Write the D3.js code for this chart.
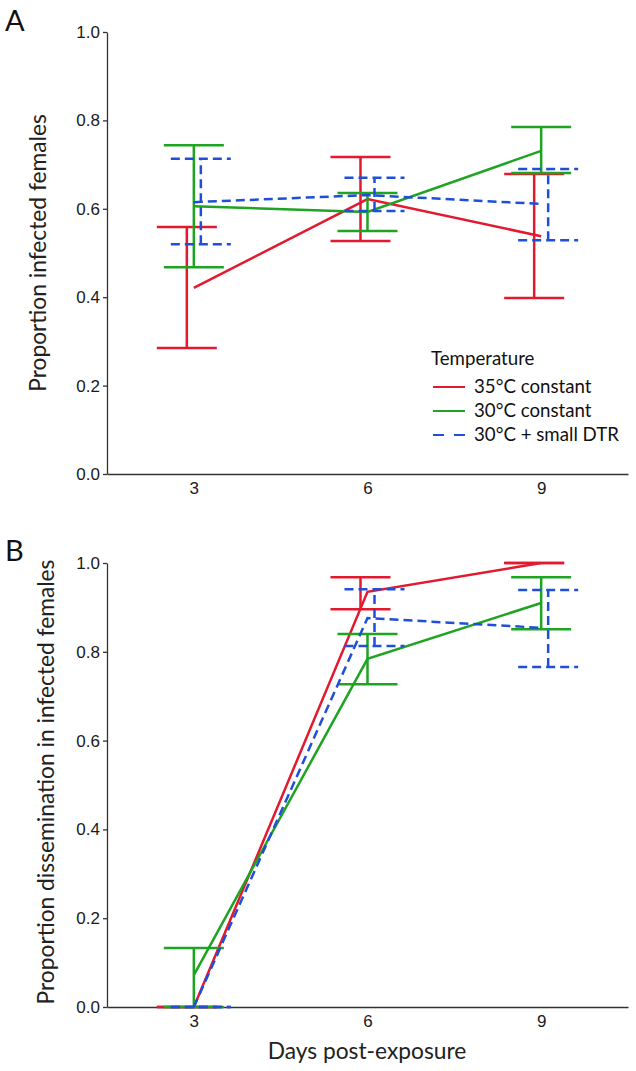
<!DOCTYPE html>
<html>
<head>
<meta charset="utf-8">
<script src="https://cdn.jsdelivr.net/npm/d3@7"></script>
<style>
  html, body { margin: 0; padding: 0; background: #fff; }
  svg { display: block; }
</style>
</head>
<body>
<svg id="chart" width="636" height="1071"></svg>
<script>
// ---------------- DATA ----------------
const days = [3, 6, 9];
const seriesNames = ["35°C constant", "30°C constant", "30°C + small DTR"];
const yTicks = [0.0, 0.2, 0.4, 0.6, 0.8, 1.0];

// Panel A: proportion infected females
const infRedMean   = [0.421, 0.622, 0.538];
const infRedLo     = [0.285, 0.527, 0.398];
const infRedHi     = [0.559, 0.717, 0.679];
const infGreenMean = [0.606, 0.593, 0.731];
const infGreenLo   = [0.468, 0.550, 0.681];
const infGreenHi   = [0.744, 0.636, 0.785];
const infBlueMean  = [0.615, 0.631, 0.611];
const infBlueLo    = [0.520, 0.595, 0.529];
const infBlueHi    = [0.713, 0.670, 0.690];

// Panel B: proportion dissemination in infected females
const disRedMean   = [0.000, 0.935, 1.000];
const disRedLo     = [0.000, 0.896, 1.000];
const disRedHi     = [0.000, 0.968, 1.000];
const disGreenMean = [0.072, 0.784, 0.910];
const disGreenLo   = [0.000, 0.727, 0.851];
const disGreenHi   = [0.133, 0.840, 0.968];
const disBlueMean  = [0.000, 0.876, 0.854];
const disBlueLo    = [0.000, 0.813, 0.766];
const disBlueHi    = [0.000, 0.941, 0.939];

// ---------------- STYLE ----------------
const colors = ["#e3192f", "#1ea322", "#1f4fd8"];
const dashes = [null, null, "9,5"];
const dodge = [-7, 0, 7];
const capHalf = 30;
const titleFont = "Lato, 'Open Sans', sans-serif";
const tickFont = "'Liberation Sans', Arial, sans-serif";

const svg = d3.select("#chart");

const x = d3.scaleLinear().domain([1.5, 10.5]).range([107, 628]);

function fitSize(text, target, font) {
  const t = svg.append("text").attr("font-family", font).attr("font-size", 100).text(text);
  const w = t.node().getComputedTextLength();
  t.remove();
  return 100 * target / w;
}
const titleSize = fitSize("Proportion dissemination in infected females", 445, titleFont);
const legendSize = fitSize("30°C + small DTR", 145, titleFont);

function panel(letter, letterY, yRange, yTitle, titleX, titleY, series) {
  const y = d3.scaleLinear().domain([0, 1]).range(yRange);
  const g = svg.append("g");

  // panel letter
  svg.append("text").attr("x", 5).attr("y", letterY)
    .attr("font-family", titleFont).attr("font-size", 29).attr("fill", "#111")
    .text(letter);

  // y axis
  const ya = g.append("g").attr("transform", `translate(${x.range()[0]},0)`)
    .call(d3.axisLeft(y).tickValues(yTicks).tickFormat(d3.format(".1f"))
      .tickSize(4).tickSizeOuter(0).tickPadding(3));
  ya.select(".domain").attr("stroke", "#333").attr("stroke-width", 1.3);
  ya.selectAll(".tick line").attr("stroke", "#333").attr("stroke-width", 1.3);
  ya.selectAll("text").attr("font-family", tickFont).attr("font-size", 17).attr("fill", "#1a1a1a");

  // x axis
  const xa = g.append("g").attr("transform", `translate(0,${yRange[0]})`)
    .call(d3.axisBottom(x).tickValues(days).tickFormat(d3.format("d"))
      .tickSize(0).tickSizeOuter(0).tickPadding(8));
  xa.select(".domain").attr("stroke", "#333").attr("stroke-width", 1.3);
  xa.selectAll("text").attr("font-family", tickFont).attr("font-size", 17).attr("fill", "#1a1a1a");

  // y title
  svg.append("text")
    .attr("transform", `translate(${titleX},${titleY}) rotate(-90)`)
    .attr("text-anchor", "middle")
    .attr("font-family", titleFont).attr("font-size", titleSize).attr("fill", "#222")
    .text(yTitle);

  // series
  series.forEach((s, i) => {
    const sg = g.append("g").attr("stroke", colors[i]).attr("stroke-width", 2.5)
      .attr("fill", "none");
    if (dashes[i]) sg.attr("stroke-dasharray", dashes[i]);
    days.forEach((d, j) => {
      const cx = x(d) + dodge[i];
      sg.append("line").attr("x1", cx).attr("x2", cx)
        .attr("y1", y(s.lo[j])).attr("y2", y(s.hi[j]));
      sg.append("line").attr("x1", cx - capHalf).attr("x2", cx + capHalf)
        .attr("y1", y(s.hi[j])).attr("y2", y(s.hi[j]));
      sg.append("line").attr("x1", cx - capHalf).attr("x2", cx + capHalf)
        .attr("y1", y(s.lo[j])).attr("y2", y(s.lo[j]));
    });
    const line = d3.line().x((d, j) => x(days[j])).y(d => y(d));
    sg.append("path").attr("d", line(s.mean));
  });
  return y;
}

panel("A", 31, [474, 32], "Proportion infected females", 46, 253, [
  {mean: infRedMean, lo: infRedLo, hi: infRedHi},
  {mean: infGreenMean, lo: infGreenLo, hi: infGreenHi},
  {mean: infBlueMean, lo: infBlueLo, hi: infBlueHi}
]);

panel("B", 561, [1007, 563], "Proportion dissemination in infected females", 54, 782, [
  {mean: disRedMean, lo: disRedLo, hi: disRedHi},
  {mean: disGreenMean, lo: disGreenLo, hi: disGreenHi},
  {mean: disBlueMean, lo: disBlueLo, hi: disBlueHi}
]);

// x title
svg.append("text").attr("x", 367).attr("y", 1059).attr("text-anchor", "middle")
  .attr("font-family", titleFont).attr("font-size", titleSize).attr("fill", "#222")
  .text("Days post-exposure");

// legend
const leg = svg.append("g");
leg.append("text").attr("x", 431).attr("y", 365)
  .attr("font-family", titleFont).attr("font-size", legendSize).attr("fill", "#111")
  .text("Temperature");
const legRowY = [393, 417, 441];
seriesNames.forEach((name, i) => {
  leg.append("line").attr("x1", 433).attr("x2", 465)
    .attr("y1", legRowY[i] - 6).attr("y2", legRowY[i] - 6)
    .attr("stroke", colors[i]).attr("stroke-width", 2)
    .attr("stroke-dasharray", dashes[i] ? "11,10" : null);
  leg.append("text").attr("x", 474).attr("y", legRowY[i])
    .attr("font-family", titleFont).attr("font-size", legendSize).attr("fill", "#111")
    .text(name);
});
</script>
</body>
</html>
